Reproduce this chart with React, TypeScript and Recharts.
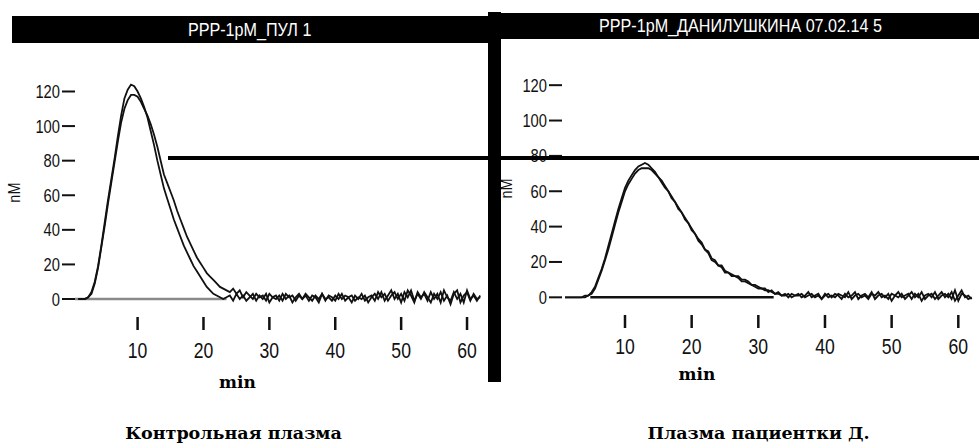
import React from "react"
import { LineChart, Line, XAxis, YAxis, ReferenceLine, Label } from "recharts"

// time grid, minutes (0.5 min step)
const minutes = Array.from({ length: 123 }, (_, i) => 1 + i * 0.5)

const xTicks = [10, 20, 30, 40, 50, 60]
const yTicks = [0, 20, 40, 60, 80, 100, 120]

// control plasma (pool), two runs
const poolRun1 = [
  0, 0, 0, 1, 4, 10, 19, 31, 44, 57,
  69, 81, 94, 106, 116, 121, 124, 123, 120, 116,
  111, 105, 97, 89, 80, 72, 64, 58, 52, 46,
  41, 36, 31, 27, 23, 19, 16, 13, 10, 7,
  5, 3, 2, 1, 0, 1,
  2, -1, 3, 0, 2, -1, 1, 3, -1, 2,
  0, 3, -2, 1, 2, -1, 3, 0, 2, -2,
  1, 3, 0, 2, -1, 2, 1, -2, 3, 0,
  1, -1, 2, 0, 3, -1, 1, 2, -1, 1,
  0, 2, -2, 1, 3, 0, 4, -1, 2, 5,
  0, 3, -2, 4, 1, 5, -1, 3, 0, 4,
  1, -2, 3, 0, 4, -1, 2, -3, 3, 5,
  -2, 2, 4, -1, 3, 0, 1,
]
const poolRun2 = [
  0, 0, 0, 1, 3, 9, 18, 30, 42, 55,
  67, 79, 91, 102, 110, 115, 118, 118, 117, 114,
  110, 106, 101, 95, 88, 80, 72, 67, 62, 57,
  51, 46, 41, 36, 32, 28, 24, 21, 18, 15,
  13, 11, 9, 7, 6, 5,
  4, 6, 3, 5, 1, 4, 2, 0, 3, 1,
  2, -1, 3, 1, 0, 2, -1, 3, 1, 2,
  -1, 2, 0, 3, 1, -1, 2, 0, 3, -1,
  2, 1, -1, 3, 0, 2, 1, -2, 2, 0,
  3, -1, 1, 2, -1, 4, 1, 3, -1, 2,
  4, 0, 3, -1, 5, 2, -2, 4, 1, 3,
  -1, 4, 0, 3, -2, 5, 1, -1, 4, 0,
  3, -2, 5, 0, 2, -1, 2,
]

// patient D. plasma, two runs
const patientRun1 = [
  0, 0, 0, 0, 0, 0, 1, 1, 3, 6,
  11, 16, 22, 29, 36, 43, 50, 56, 62, 66,
  69, 72, 74, 75, 76, 75, 73, 71, 68, 66,
  63, 60, 57, 54, 51, 48, 45, 42, 39, 36,
  33, 31, 27, 26, 22, 21, 18, 18, 15, 14,
  13, 12, 12, 10, 10, 9, 7, 7, 6, 5,
  5, 3, 4, 2, 3, 1, 2, 0, 2, 1,
  2, 0, 1, 3, 0, 1, 2, -1, 1, 2,
  0, 2, 1, -1, 2, 0, 1, 3, -1, 1,
  2, 0, 3, -1, 1, 2, 0, 2, -2, 1,
  3, 0, 1, 2, -1, 2, 0, 3, -1, 1,
  2, -1, 1, 3, 0, 2, -1, 4, -2, 2,
  1, -1, 0,
]
const patientRun2 = [
  0, 0, 0, 0, 0, 0, 0, 1, 2, 5,
  10, 15, 21, 27, 34, 41, 48, 54, 60, 64,
  67, 70, 72, 73, 73, 73, 72, 70, 68, 65,
  62, 60, 56, 54, 50, 48, 44, 42, 38, 36,
  32, 30, 27, 25, 21, 20, 18, 17, 14, 14,
  12, 12, 11, 9, 9, 8, 7, 6, 5, 5,
  4, 4, 3, 2, 2, 1, 1, 2, 0, 1,
  1, 2, 0, 1, 2, 0, 1, -1, 2, 0,
  1, 0, 2, 1, 0, 3, -1, 1, 2, 0,
  1, -1, 2, 1, 3, 0, 1, -1, 2, 1,
  0, 2, -1, 1, 3, 0, 2, -2, 1, 2,
  0, 3, -1, 1, 2, 0, 3, -2, 1, 4,
  0, 1, -1,
]

const poolData = minutes.map((t, i) => ({ t, a: poolRun1[i], b: poolRun2[i] }))
const patientData = minutes.map((t, i) => ({ t, a: patientRun1[i], b: patientRun2[i] }))

const sans = "'Liberation Sans', Arial, sans-serif"
const heavy = "'DejaVu Serif', serif"

// condensed text: the original uses a narrow face
const XTick = (props: any) => {
  const { x, y, payload } = props
  return (
    <g transform={`translate(${x},${y}) scale(0.8,1)`}>
      <text x={0} y={0} dy="0.72em" textAnchor="middle" fontSize={22} fontFamily={sans} fill="#111">
        {payload.value}
      </text>
    </g>
  )
}

const YTick = (props: any) => {
  const { x, y, payload } = props
  return (
    <g transform={`translate(${x},${y}) scale(0.82,1)`}>
      <text x={0} y={0} dy="0.36em" textAnchor="end" fontSize={18} fontFamily={sans} fill="#111">
        {payload.value}
      </text>
    </g>
  )
}

const yLabel = (dx: number, dy: number) => (props: any) => {
  const vb = props.viewBox
  const x = vb.x + dx
  const y = vb.y + vb.height / 2 + dy
  return (
    <text x={x} y={y} transform={`rotate(-90 ${x} ${y}) scale(0.85,1)`} textAnchor="middle" fontSize={17} fontFamily={sans} fill="#111">
      nM
    </text>
  )
}

function Panel({ data, width, margin, xDomain, yDomain, yWidth, xMargin, base, baseColor, labelPos }: any) {
  return (
    <LineChart width={width} height={400} data={data} margin={margin}>
      <XAxis
        type="number"
        dataKey="t"
        domain={xDomain}
        ticks={xTicks}
        allowDataOverflow
        axisLine={false}
        tickLine={{ stroke: "#111", strokeWidth: 2.5 }}
        tickSize={13}
        tickMargin={xMargin}
        tick={<XTick />}
        height={60}
      />
      <YAxis
        type="number"
        domain={yDomain}
        ticks={yTicks}
        allowDataOverflow
        axisLine={false}
        tickLine={{ stroke: "#111", strokeWidth: 2 }}
        tickSize={13}
        tickMargin={2}
        tick={<YTick />}
        width={yWidth}
      >
        <Label content={yLabel(labelPos[0], labelPos[1])} />
      </YAxis>
      <ReferenceLine segment={[{ x: base[0], y: 0 }, { x: base[1], y: 0 }]} stroke={baseColor} strokeWidth={2.5} />
      <Line type="linear" dataKey="b" stroke="#111" strokeWidth={1.8} dot={false} isAnimationActive={false} />
      <Line type="linear" dataKey="a" stroke="#111" strokeWidth={1.8} dot={false} isAnimationActive={false} />
    </LineChart>
  )
}

const titleStyle: React.CSSProperties = {
  position: "absolute",
  background: "#000",
  color: "#fff",
  fontFamily: sans,
  fontSize: 19,
  textAlign: "center",
  overflow: "hidden",
}

export default function App() {
  return (
    <div style={{ position: "relative", width: 979, height: 445, background: "#fff", overflow: "hidden" }}>
      <style>{"body{margin:0}"}</style>
      <div style={{ position: "absolute", left: 0, top: 0 }}>
        <Panel
          data={poolData}
          width={490}
          margin={{ top: 74.2, right: 6.5, left: 0, bottom: 23 }}
          xDomain={[0.5, 62.5]}
          yDomain={[-10.4, 130]}
          yWidth={75}
          xMargin={12}
          base={[0.5, 23.5]}
          baseColor="#8a8a8a"
          labelPos={[20, -6]}
        />
      </div>
      <div style={{ position: "absolute", left: 490, top: 0 }}>
        <Panel
          data={patientData}
          width={489}
          margin={{ top: 67.5, right: 0.7, left: 0, bottom: 25 }}
          xDomain={[0.55, 63]}
          yDomain={[-10, 130]}
          yWidth={72}
          xMargin={10}
          base={[4.8, 32.3]}
          baseColor="#111"
          labelPos={[22, -6]}
        />
      </div>

      {/* title bars and frame */}
      <div style={{ ...titleStyle, left: 12, top: 16, width: 476, height: 27, lineHeight: "27px" }}>
        <span style={{ display: "inline-block", transform: "scaleX(0.85)" }}>PPP-1pM_ПУЛ 1</span>
      </div>
      <div style={{ ...titleStyle, left: 501, top: 13, width: 478, height: 26, lineHeight: "26px" }}>
        <span style={{ display: "inline-block", transform: "scaleX(0.85)", whiteSpace: "nowrap" }}>PPP-1pM_ДАНИЛУШКИНА 07.02.14 5</span>
      </div>
      <div style={{ position: "absolute", left: 488, top: 12, width: 13, height: 370, background: "#000" }} />
      <div style={{ position: "absolute", left: 168, top: 155.5, width: 811, height: 4, background: "#000" }} />

      {/* axis titles and captions */}
      <div style={{ position: "absolute", left: 237.5, top: 374, transform: "translateX(-50%)", fontFamily: heavy, fontWeight: 900, fontSize: 17, lineHeight: 1 }}>min</div>
      <div style={{ position: "absolute", left: 697, top: 366, transform: "translateX(-50%)", fontFamily: heavy, fontWeight: 900, fontSize: 17, lineHeight: 1 }}>min</div>
      <div style={{ position: "absolute", left: 233.5, top: 425, transform: "translateX(-50%)", fontFamily: heavy, fontWeight: 900, fontSize: 17.5, lineHeight: 1, whiteSpace: "nowrap" }}>Контрольная плазма</div>
      <div style={{ position: "absolute", left: 758.5, top: 425, transform: "translateX(-50%)", fontFamily: heavy, fontWeight: 900, fontSize: 17.5, lineHeight: 1, whiteSpace: "nowrap" }}>Плазма пациентки Д.</div>
    </div>
  )
}
